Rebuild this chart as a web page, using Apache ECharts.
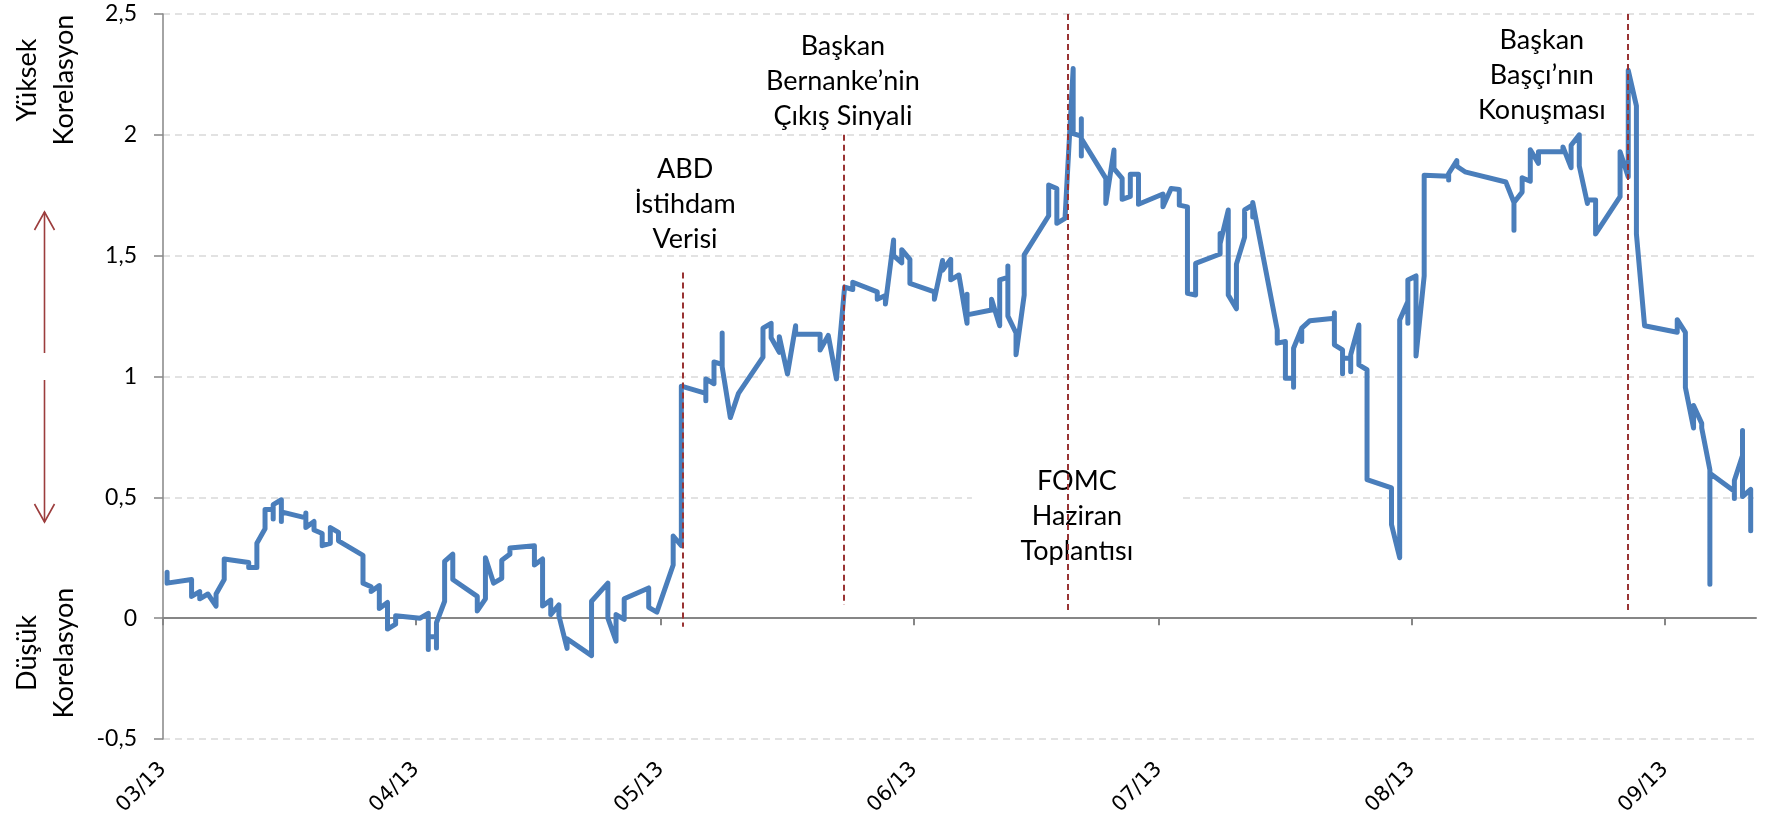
<!DOCTYPE html>
<html><head><meta charset="utf-8">
<script src="https://cdn.jsdelivr.net/npm/echarts@6/dist/echarts.min.js"></script>
<style>html,body{margin:0;padding:0;background:#fff}#c{width:1765px;height:825px}</style>
</head><body><div id="c"></div>
<script>
// ---- data ----
const obsYear = 2013;
const obsDates = [
'03-01','03-04','03-05','03-06','03-07','03-08','03-11','03-12','03-13','03-14','03-15','03-18','03-19','03-20','03-21','03-22','03-25','03-26','03-27','03-28','03-29',
'04-01','04-02','04-03','04-04','04-05','04-08','04-09','04-10','04-11','04-12','04-15','04-16','04-17','04-18','04-19','04-22','04-24','04-25','04-26','04-29','04-30',
'05-02','05-03','05-06','05-07','05-08','05-09','05-10','05-13','05-14','05-15','05-16','05-17','05-20','05-21','05-22','05-23','05-24','05-27','05-28','05-29','05-30','05-31',
'06-03','06-04','06-05','06-06','06-07','06-10','06-11','06-12','06-13','06-14','06-17','06-18','06-19','06-20','06-21','06-24','06-25','06-26','06-27','06-28',
'07-01','07-02','07-03','07-04','07-05','07-08','07-09','07-10','07-11','07-12','07-15','07-16','07-17','07-18','07-19','07-22','07-23','07-24','07-25','07-26','07-29','07-30','07-31',
'08-01','08-02','08-05','08-06','08-07','08-12','08-13','08-14','08-15','08-16','08-19','08-20','08-21','08-22','08-23','08-26','08-27','08-28','08-29',
'09-02','09-03','09-04','09-05','09-06','09-09','09-10','09-11'];
// correlation readings on each date (several readings per date draw a vertical step)
const obsValues = [
[0.19,0.145],[0.16,0.09],[0.11,0.08],[0.10],[0.05,0.10],[0.16,0.245],[0.23,0.21],[0.21,0.31],[0.37,0.45],[0.45,0.41,0.47],[0.49,0.40,0.44],[0.415,0.435,0.375],[0.40,0.365],[0.35,0.30],[0.31,0.375],[0.355,0.32],[0.26,0.145],[0.13,0.11],[0.135,0.04],[0.065,-0.045],[-0.025,0.01],
[0.00],[0.02,-0.13,-0.077],[-0.077,-0.123,-0.019],[0.07,0.235],[0.265,0.16],[0.09,0.03],[0.08,0.25],[0.145],[0.165,0.24],[0.265,0.29],[0.30,0.22],[0.245,0.05],[0.075,0.015],[0.055,0.01],[-0.125,-0.085],[-0.155,0.07],[0.145,0.00],[-0.095,0.015],[-0.005,0.08],[0.125,0.045],[0.025],
[0.22,0.34],[0.30,0.96],[0.93,0.90,0.99],[0.97,1.06],[1.05,1.18,1.04],[0.83],[0.93],[1.08,1.20],[1.22,1.16],[1.10,1.165],[1.01],[1.21,1.175],[1.175,1.11],[1.17],[0.99],[1.37],[1.36,1.39],[1.35,1.32],[1.335,1.30],[1.565,1.50],[1.47,1.525],[1.485,1.385],
[1.35,1.32],[1.48,1.44],[1.485,1.40],[1.42],[1.22,1.34,1.255],[1.275,1.32],[1.21,1.40],[1.41,1.457,1.25],[1.18,1.09],[1.337,1.503],[1.665,1.792],[1.778,1.634],[1.654,1.66],[2.274,2.005],[1.995,2.067,1.912,1.985],[1.82,1.716],[1.937,1.86],[1.82,1.733],[1.745,1.837],[1.837,1.713],
[1.755,1.702],[1.778,1.785],[1.774,1.709],[1.702,1.344],[1.337,1.468],[1.507,1.592,1.55],[1.689,1.337],[1.28,1.465],[1.576,1.689],[1.71,1.66,1.72],[1.193,1.138],[1.145,0.993],[0.993,0.956,1.117],[1.2,1.145,1.2],[1.231],[1.241,1.264,1.131],[1.11,1.011,1.076],[1.076,1.02,1.09],[1.213,1.048],[1.028,0.573],[0.539,0.387],[0.25,1.234],[1.31,1.399,1.22,1.399],
[1.416,1.085],[1.416,1.833],[1.829,1.813,1.84],[1.893,1.87],[1.847],[1.805],[1.72,1.605,1.72],[1.763,1.822],[1.808,1.938],[1.882,1.93],[1.93,1.95],[1.864,1.957],[2.0,1.871],[1.716,1.73],[1.73,1.59],[1.744,1.93],[1.826,2.267],[2.12,1.775,1.59],[1.21],
[1.183,1.235],[1.183,1.146,0.954],[0.787,0.88],[0.806,0.787],[0.614,0.14,0.60],[0.525,0.495,0.57],[0.673,0.777,0.503],[0.533,0.362]];

const monthTicks = ['2013-03-01','2013-04-01','2013-05-01','2013-06-01','2013-07-01','2013-08-01','2013-09-01'];
const axisStart = '2013-03-01';
const axisDays = 195.15;
const yMin = -0.5, yMax = 2.5, yStep = 0.5;

// event markers (dashed lines)
const eventTimes   = ['2013-05-03 17:00','2013-05-23 10:00','2013-06-19 19:00','2013-08-27 10:00'];
const eventTops    = [1.43, 2.0, 2.5, 2.5];
const eventBottoms = [-0.035, 0.055, 0.03, 0.03];

// annotation notes
const noteTexts  = ['ABD\nİstihdam\nVerisi', 'Başkan\nBernanke’nin\nÇıkış Sinyali', 'FOMC\nHaziran\nToplantısı', 'Başkan\nBaşçı’nın\nKonuşması'];
const noteTimes  = ['2013-05-03 23:00','2013-05-23 07:00','2013-06-20 23:00','2013-08-16 22:00'];
const noteValues = [1.713, 2.222, 0.42, 2.248];
const noteBoxed  = [false, false, true, false];

const sideTexts = ['Yüksek\nKorelasyon', 'Düşük\nKorelasyon'];

// ---- helpers ----
function ts(s) {
  const parts = s.split(' ');
  const d = parts[0].split('-').map(Number);
  let h = 0, mi = 0;
  if (parts[1]) { const t = parts[1].split(':').map(Number); h = t[0]; mi = t[1]; }
  return Date.UTC(d[0], d[1] - 1, d[2], h, mi);
}
function pad(n) { return (n < 10 ? '0' : '') + n; }
function monthLabel(v) {
  const d = new Date(v);
  return pad(d.getUTCMonth() + 1) + '/' + String(d.getUTCFullYear()).slice(2);
}

const seriesData = [];
obsDates.forEach(function (md, i) {
  const x = ts(obsYear + '-' + md + ' 12:00');
  obsValues[i].forEach(function (v) { seriesData.push([x, v]); });
});
const xMin = ts(axisStart);
const xMax = xMin + axisDays * 86400000;
const monthTs = monthTicks.map(function (m) { return ts(m); });

const eventLines = eventTimes.map(function (t, i) {
  return [{ coord: [ts(t), eventTops[i]] }, { coord: [ts(t), eventBottoms[i]] }];
});

const AX = '#868686';
const option = {
  animation: false,
  backgroundColor: '#ffffff',
  grid: { left: 163, right: 9, top: 14, bottom: 86, containLabel: false },
  xAxis: [
    {
      type: 'value', min: xMin, max: xMax, position: 'bottom',
      axisLine: { show: false, onZero: false },
      axisTick: { show: false },
      splitLine: { show: false },
      axisLabel: {
        customValues: monthTs, rotate: 45, margin: 27,
        formatter: monthLabel,
        fontFamily: 'DejaVu Sans', fontSize: 21, color: '#000'
      }
    },
    {
      type: 'value', min: xMin, max: xMax, position: 'bottom',
      axisLine: { show: true, onZero: true, lineStyle: { color: AX, width: 2 } },
      axisTick: { show: true, customValues: monthTs, length: 7, lineStyle: { color: AX, width: 2 } },
      axisLabel: { show: false },
      splitLine: { show: false }
    }
  ],
  yAxis: {
    type: 'value', min: yMin, max: yMax, interval: yStep,
    axisLine: { show: true, onZero: false, lineStyle: { color: AX, width: 1.5 } },
    axisTick: { show: true, length: 9, lineStyle: { color: AX, width: 1.5 } },
    axisLabel: {
      margin: 26, color: '#000', fontFamily: 'Lato', fontSize: 23,
      formatter: function (v) { return String(v).replace('.', ','); }
    },
    splitLine: { show: true, lineStyle: { color: '#d9d9d9', width: 1.5, type: [7, 5] } }
  },
  series: [{
    type: 'line', xAxisIndex: 0, yAxisIndex: 0,
    data: seriesData, showSymbol: false, symbol: 'none',
    lineStyle: { color: '#4a7ebb', width: 5, cap: 'round', join: 'round' },
    markLine: {
      silent: true, symbol: ['none', 'none'], label: { show: false },
      lineStyle: { color: '#993333', width: 2, type: [6, 4] },
      emphasis: { disabled: true },
      data: eventLines
    }
  }]
};

const chart = echarts.init(document.getElementById('c'), null, { renderer: 'canvas' });
chart.setOption(option);

// ---- annotations & side decorations ----
const g = [];
noteTexts.forEach(function (txt, i) {
  const p = chart.convertToPixel({ seriesIndex: 0 }, [ts(noteTimes[i]), noteValues[i]]);
  if (noteBoxed[i]) {
    g.push({ type: 'rect', z: 1, shape: { x: p[0] - 105, y: p[1] - 55, width: 211, height: 110 }, style: { fill: '#ffffff' } });
  }
  g.push({
    type: 'text', z: 1, x: p[0], y: p[1],
    style: { text: txt, fill: '#000', fontFamily: 'Lato', fontSize: 27, lineHeight: 35, align: 'center', verticalAlign: 'middle' }
  });
});
const sideY = [80, 653];
sideTexts.forEach(function (txt, i) {
  g.push({
    type: 'text', z: 1, x: 46, y: sideY[i], rotation: Math.PI / 2,
    style: { text: txt, fill: '#000', fontFamily: 'Lato', fontSize: 27, lineHeight: 37, align: 'center', verticalAlign: 'middle' }
  });
});
const AR = '#9c3d3d';
g.push({ type: 'line', z: 1, shape: { x1: 44.5, y1: 353, x2: 44.5, y2: 212 }, style: { stroke: AR, lineWidth: 1.6 } });
g.push({ type: 'polyline', z: 1, shape: { points: [[34.5, 230], [44.5, 212], [54.5, 230]] }, style: { stroke: AR, lineWidth: 1.6, fill: null } });
g.push({ type: 'line', z: 1, shape: { x1: 44.5, y1: 380, x2: 44.5, y2: 522 }, style: { stroke: AR, lineWidth: 1.6 } });
g.push({ type: 'polyline', z: 1, shape: { points: [[34.5, 504], [44.5, 522], [54.5, 504]] }, style: { stroke: AR, lineWidth: 1.6, fill: null } });
chart.setOption({ graphic: g });
</script>
</body></html>
